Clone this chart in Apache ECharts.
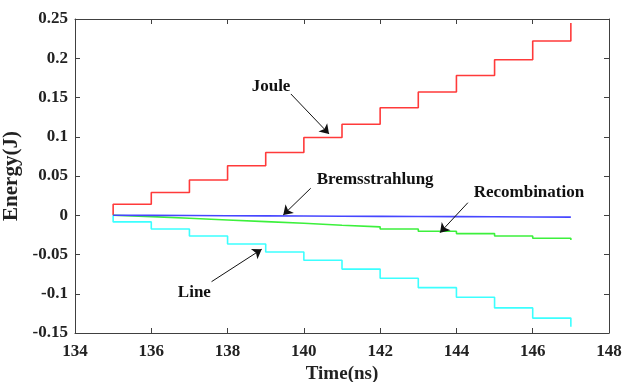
<!DOCTYPE html>
<html>
<head>
<meta charset="utf-8">
<script src="https://cdn.jsdelivr.net/npm/echarts@6/dist/echarts.min.js"></script>
<style>
html,body{margin:0;padding:0;background:#fff;}
#chart{width:622px;height:382px;}
</style>
</head>
<body>
<div id="chart"></div>
<script>
// Time points (ns); first point repeated so every curve starts at 0 at t=135
var time = [135, 135, 136, 137, 138, 139, 140, 141, 142, 143, 144, 145, 146, 147];
var joule = [0, 0.014, 0.029, 0.045, 0.063, 0.080, 0.099, 0.116, 0.137, 0.157, 0.178, 0.198, 0.222, 0.245];
var brems = [0, -0.0002, -0.0004, -0.0006, -0.0008, -0.0010, -0.0012, -0.0014, -0.0016, -0.0018, -0.0020, -0.0022, -0.0024, -0.0026];
var recomb = [0, -0.0018, -0.0038, -0.0060, -0.0081, -0.0102, -0.0127, -0.0148, -0.0175, -0.0204, -0.0234, -0.0264, -0.0293, -0.0315];
var lineRad = [0, -0.0085, -0.0175, -0.0264, -0.0366, -0.0468, -0.0574, -0.0686, -0.0803, -0.0922, -0.1045, -0.1180, -0.1310, -0.1420];

// Annotation labels and arrows (data coordinates)
var annLabels = ['Joule', 'Bremsstrahlung', 'Recombination', 'Line'];
var annTextPos = [[139.14, 0.1634], [141.87, 0.045], [145.90, 0.0284], [137.13, -0.099]];
var annArrowFrom = [[139.66, 0.1545], [140.18, 0.0344], [144.30, 0.016], [137.58, -0.0846]];
var annArrowTo = [[140.66, 0.1036], [139.46, 0.0004], [143.57, -0.0222], [138.895, -0.0433]];

var xTicks = {min: 134, max: 148, interval: 2};
var yTicks = {min: -0.15, max: 0.25, interval: 0.05};

function pairs(ys) {
  return time.map(function (t, i) { return [t, ys[i]]; });
}

var FONT = '"Liberation Serif", "Times New Roman", serif';
var AXC = '#404040';

var chart = echarts.init(document.getElementById('chart'), null, {renderer: 'canvas'});

function mkSeries(name, ys, color) {
  return {
    name: name, type: 'line', step: 'end', data: pairs(ys),
    showSymbol: false, symbol: 'none',
    lineStyle: {color: color, width: 1.6},
    itemStyle: {color: color},
    silent: true, animation: false
  };
}

var annSeries = {
  name: 'ann', type: 'line', data: [], silent: true, animation: false,
  markLine: {
    silent: true, animation: false,
    symbol: ['none', 'arrow'], symbolSize: 9,
    lineStyle: {color: '#111', width: 1, type: 'solid'},
    label: {show: false},
    emphasis: {disabled: true},
    data: annArrowFrom.map(function (f, i) {
      return [{coord: f}, {coord: annArrowTo[i]}];
    })
  },
  markPoint: {
    silent: true, animation: false,
    symbol: 'circle', symbolSize: 0,
    itemStyle: {color: 'rgba(0,0,0,0)'},
    label: {
      show: true, position: 'inside', color: '#111',
      fontFamily: FONT, fontWeight: 'bold', fontSize: 17,
      formatter: function (p) { return p.name; }
    },
    data: annTextPos.map(function (p, i) {
      return {name: annLabels[i], coord: p};
    })
  }
};

function boxAxis(extra) {
  var base = {
    axisLine: {show: true, onZero: false, lineStyle: {color: AXC, width: 1}},
    axisTick: {show: true, inside: true, length: 5, lineStyle: {color: AXC}},
    splitLine: {show: false}
  };
  return Object.assign(base, extra);
}

var option = {
  backgroundColor: '#fff',
  animation: false,
  grid: {left: 75, top: 19, right: 13, bottom: 49, containLabel: false, outerBoundsMode: 'none'},
  xAxis: [boxAxis({
    type: 'value', position: 'bottom', min: xTicks.min, max: xTicks.max, interval: xTicks.interval,
    name: 'Time(ns)', nameLocation: 'middle', nameGap: 29,
    nameTextStyle: {fontFamily: FONT, fontWeight: 'bold', fontSize: 19, color: '#222'},
    axisLabel: {fontFamily: FONT, fontWeight: 'bold', fontSize: 17, color: '#222', margin: 10}
  }), boxAxis({
    type: 'value', position: 'top', min: xTicks.min, max: xTicks.max, interval: xTicks.interval,
    axisLabel: {show: false}
  })],
  yAxis: [boxAxis({
    type: 'value', position: 'left', min: yTicks.min, max: yTicks.max, interval: yTicks.interval,
    name: 'Energy(J)', nameLocation: 'middle', nameGap: 48,
    nameTextStyle: {fontFamily: FONT, fontWeight: 'bold', fontSize: 21, color: '#222'},
    axisLabel: {fontFamily: FONT, fontWeight: 'bold', fontSize: 17, color: '#222', margin: 7,
      formatter: function (v) { return String(Math.round(v * 100) / 100); }}
  }), boxAxis({
    type: 'value', position: 'right', min: yTicks.min, max: yTicks.max, interval: yTicks.interval,
    axisLabel: {show: false}
  })],
  series: [
    mkSeries('Joule', joule, '#ff3a3a'),
    mkSeries('Line', lineRad, '#3cffff'),
    mkSeries('Recombination', recomb, '#3cf03c'),
    mkSeries('Bremsstrahlung', brems, '#4646ff'),
    annSeries
  ]
};

chart.setOption(option);
</script>
</body>
</html>
